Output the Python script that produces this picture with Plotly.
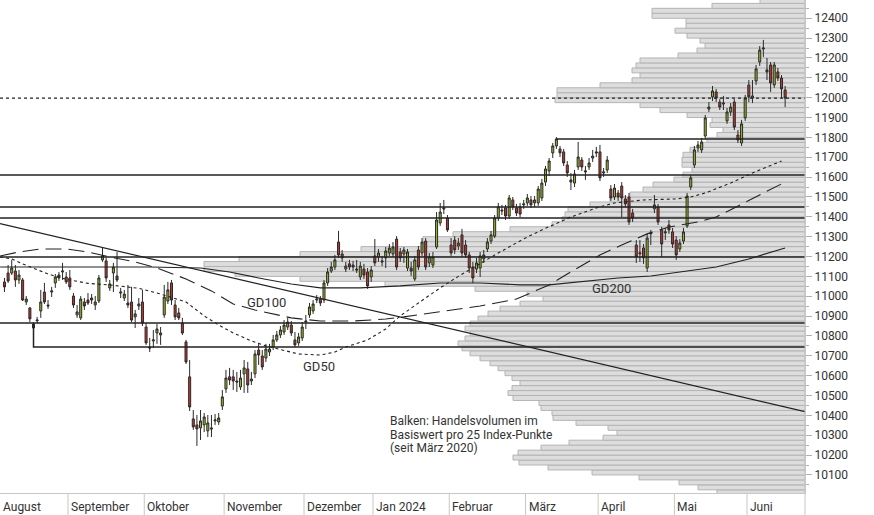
import pandas as pd
import plotly.graph_objects as go

# ---------------- data ----------------
holidays = ["2023-12-25", "2023-12-26", "2024-01-01", "2024-01-02", "2024-03-29",
            "2024-04-01", "2024-05-01", "2024-05-09", "2024-05-20"]
dates = [d for d in pd.bdate_range("2023-08-08", "2024-06-17")
         if d.strftime("%Y-%m-%d") not in holidays]

opens = [11072, 11117, 11117, 11127, 11082, 11082, 10971, 10941, 10860, 10876, 10926, 11021, 10956, 11021, 11067, 11107, 11122, 11097,
         11092, 11001, 10906, 10891, 10971, 10981, 10991, 10956, 10976, 11183, 11178, 11042, 11117, 11102, 11016, 10991, 10966, 10971, 10896, 10951, 10971,
         10845, 10744, 10775, 10815, 10805, 10906, 10976, 11067, 10956, 10916, 10865, 10770, 10594, 10382, 10352, 10337, 10352, 10322, 10337, 10372, 10367, 10447,
         10533, 10594, 10594, 10573, 10543, 10609, 10634, 10573, 10609, 10729, 10699, 10689, 10719, 10744, 10780, 10805, 10820, 10845, 10855, 10780, 10765, 10790,
         10870, 10906, 10926, 10981, 10986, 10981, 11067, 11127, 11147, 11273, 11213, 11137, 11163, 11157, 11137, 11097, 11137, 11122, 11097,
         11203, 11198, 11178, 11193, 11218, 11213, 11288, 11223, 11213, 11142, 11142, 11087, 11233, 11218, 11278, 11168, 11157, 11248, 11369, 11445, 11394,
         11258, 11283, 11253, 11309, 11258, 11208, 11147, 11137, 11142, 11188, 11238, 11278, 11303, 11394, 11434, 11445, 11404, 11485, 11445, 11450, 11460,
         11470, 11485, 11470, 11470, 11495, 11575, 11631, 11722, 11757, 11742, 11727, 11661, 11586, 11570, 11651, 11686, 11626, 11651, 11696, 11727,
         11727, 11621, 11636, 11540, 11500, 11520, 11555, 11490, 11500, 11419, 11258, 11213, 11243, 11142, 11314, 11440, 11450, 11334, 11319, 11359, 11324,
         11283, 11238, 11278, 11354, 11550, 11661, 11747, 11737, 11807, 11943, 12004, 12029, 11978, 11968, 11883, 11928, 11978, 11812, 11772, 11898,
         12064, 11998, 12084, 12180, 12245, 12140, 12165, 12064, 12130, 12099, 12039]
highs = [11092, 11157, 11183, 11157, 11132, 11092, 11001, 10946, 10870, 10896, 11032, 11067, 10981, 11047, 11112, 11122, 11168, 11122,
         11132, 11016, 10956, 11001, 10991, 11016, 11011, 11001, 11107, 11243, 11193, 11082, 11168, 11223, 11042, 11032, 11057, 11047, 10931, 10991, 11032,
         10865, 10790, 10830, 10860, 10845, 11057, 11072, 11082, 10981, 10941, 10891, 10780, 10679, 10427, 10402, 10427, 10412, 10402, 10402, 10407, 10412, 10528,
         10629, 10639, 10629, 10619, 10629, 10679, 10669, 10619, 10729, 10765, 10729, 10760, 10760, 10805, 10825, 10850, 10880, 10891, 10875, 10820, 10815, 10870,
         10906, 10966, 10981, 11006, 11001, 11082, 11142, 11173, 11208, 11329, 11233, 11173, 11183, 11178, 11183, 11173, 11163, 11142, 11152,
         11288, 11238, 11203, 11248, 11263, 11273, 11303, 11243, 11248, 11238, 11173, 11203, 11253, 11293, 11293, 11218, 11223, 11424, 11470, 11485, 11409,
         11293, 11303, 11293, 11339, 11283, 11223, 11173, 11193, 11223, 11233, 11293, 11329, 11409, 11470, 11460, 11460, 11510, 11500, 11465, 11470, 11485,
         11515, 11505, 11505, 11555, 11591, 11656, 11696, 11772, 11802, 11757, 11742, 11681, 11621, 11636, 11777, 11701, 11656, 11696, 11737, 11752,
         11762, 11646, 11706, 11560, 11565, 11535, 11575, 11510, 11520, 11440, 11283, 11283, 11263, 11314, 11334, 11510, 11465, 11349, 11344, 11384, 11344,
         11303, 11288, 11344, 11520, 11611, 11757, 11782, 11797, 11913, 11978, 12059, 12044, 11993, 12009, 11948, 11973, 11993, 11837, 11888, 12014,
         12089, 12089, 12165, 12260, 12291, 12200, 12180, 12180, 12150, 12114, 12059]
lows = [11021, 11067, 11107, 11047, 11062, 10976, 10956, 10870, 10830, 10865, 10891, 10961, 10936, 10996, 11042, 11077, 11082, 11062,
        11032, 10941, 10891, 10880, 10931, 10956, 10961, 10931, 10966, 11173, 11072, 11027, 11021, 11072, 10991, 10976, 10941, 10870, 10840, 10931, 10850,
        10755, 10719, 10739, 10760, 10755, 10891, 10961, 10956, 10880, 10880, 10805, 10659, 10422, 10327, 10246, 10276, 10316, 10291, 10291, 10352, 10352, 10427,
        10513, 10553, 10528, 10518, 10528, 10513, 10513, 10553, 10588, 10654, 10629, 10669, 10699, 10729, 10770, 10790, 10805, 10830, 10800, 10744, 10750, 10775,
        10835, 10891, 10911, 10966, 10951, 10966, 11052, 11117, 11132, 11193, 11173, 11122, 11132, 11127, 11117, 11082, 11087, 11037, 11072,
        11152, 11173, 11152, 11142, 11203, 11198, 11132, 11173, 11168, 11127, 11102, 11077, 11132, 11203, 11132, 11147, 11142, 11238, 11354, 11414, 11324,
        11203, 11213, 11233, 11198, 11193, 11117, 11067, 11117, 11097, 11168, 11223, 11263, 11293, 11379, 11409, 11384, 11389, 11434, 11404, 11399, 11440,
        11455, 11445, 11450, 11455, 11480, 11555, 11606, 11696, 11742, 11701, 11656, 11601, 11535, 11550, 11636, 11631, 11586, 11636, 11676, 11701,
        11580, 11601, 11621, 11480, 11485, 11480, 11399, 11450, 11359, 11374, 11168, 11173, 11163, 11122, 11258, 11419, 11359, 11198, 11283, 11314, 11243,
        11183, 11223, 11263, 11344, 11535, 11646, 11727, 11722, 11792, 11928, 11983, 11978, 11938, 11938, 11868, 11908, 11837, 11772, 11757, 11883,
        11978, 11973, 12064, 12160, 12205, 12089, 12029, 12049, 12084, 11998, 11953]
closes = [11047, 11077, 11142, 11082, 11107, 10981, 10986, 10886, 10840, 10880, 10971, 10971, 10951, 11027, 11097, 11092, 11127, 11072,
          11047, 10956, 10921, 10986, 10951, 10966, 10981, 10971, 11092, 11203, 11092, 11062, 11147, 11082, 11021, 11011, 10956, 10880, 10911, 10961, 10865,
          10765, 10739, 10780, 10835, 10815, 10996, 11032, 10981, 10896, 10891, 10815, 10669, 10442, 10342, 10332, 10372, 10392, 10362, 10332, 10377, 10387, 10493,
          10588, 10578, 10573, 10568, 10588, 10639, 10553, 10583, 10709, 10704, 10644, 10734, 10734, 10780, 10805, 10830, 10855, 10870, 10815, 10755, 10795, 10845,
          10875, 10946, 10961, 10986, 10966, 11067, 11122, 11147, 11183, 11208, 11193, 11152, 11147, 11147, 11132, 11152, 11107, 11052, 11132,
          11168, 11218, 11173, 11228, 11243, 11248, 11147, 11193, 11233, 11223, 11127, 11183, 11147, 11273, 11147, 11198, 11198, 11384, 11424, 11440, 11334,
          11218, 11233, 11268, 11218, 11208, 11142, 11092, 11168, 11203, 11208, 11273, 11309, 11394, 11450, 11430, 11404, 11495, 11450, 11419, 11414, 11465,
          11495, 11460, 11485, 11540, 11570, 11641, 11681, 11757, 11792, 11722, 11671, 11621, 11575, 11616, 11701, 11651, 11631, 11671, 11706, 11722,
          11596, 11626, 11686, 11495, 11545, 11500, 11495, 11465, 11374, 11394, 11198, 11218, 11193, 11293, 11319, 11460, 11374, 11263, 11324, 11334, 11263,
          11208, 11268, 11324, 11505, 11596, 11737, 11762, 11777, 11898, 11953, 12034, 11998, 11953, 11973, 11928, 11953, 11852, 11787, 11868, 11998,
          12004, 12009, 12145, 12240, 12250, 12130, 12074, 12165, 12099, 12044, 11998]

# moving averages (at sample days; index = trading day)
gd50_idx = [-1.2, 2, 5, 8, 12, 17, 23, 30, 37, 43, 50, 55, 59, 63, 68, 72, 77, 81, 87, 91, 94, 100, 105, 109, 114,
            120, 125, 131, 136, 143, 148, 156, 163, 168, 176, 185, 189, 193, 200, 206, 214]
gd50_val = [11198, 11188, 11163, 11142, 11112, 11085, 11065, 11055, 11040, 11011, 10971, 10901, 10855, 10815, 10775,
            10750, 10729, 10709, 10704, 10719, 10744, 10780, 10835, 10901, 10966, 11042, 11100, 11165, 11218, 11289,
            11334, 11399, 11445, 11470, 11485, 11490, 11500, 11520, 11570, 11621, 11681]
gd100_idx = [-1.2, 4, 10, 17, 23, 29, 36, 42, 50, 57, 63, 69, 79, 87, 96, 105, 110, 120, 131, 141, 150, 155, 160, 164,
             170, 177, 183, 191, 196, 202, 208, 215]
gd100_val = [11203, 11223, 11238, 11238, 11223, 11198, 11173, 11142, 11087, 11027, 10961, 10931, 10891, 10875, 10875,
             10885, 10896, 10921, 10951, 10986, 11057, 11112, 11163, 11208, 11258, 11314, 11349, 11374, 11399, 11455,
             11510, 11575]
gd200_idx = [-1.2, 40, 54, 62, 70, 79, 87, 98, 109, 120, 131, 142, 150, 158, 169, 178, 186, 196, 205, 215]
gd200_val = [11147, 11147, 11142, 11122, 11092, 11062, 11042, 11042, 11052, 11067, 11067, 11057, 11057, 11072, 11092,
             11102, 11122, 11147, 11188, 11243]

# support / resistance levels: (price, first trading-day index or None for full width)
levels = [(11792, 152), (11611, None), (11450, None), (11394, None), (11198, None), (10865, None)]
bracket_level = 10744          # drawn from the candle of index 8 downwards and to the right
bracket_idx = 8
bracket_top = 10860
trend_prices = [11366, 10419]  # descending trend line, left edge -> right edge

# volume profile: traded volume per 25 index points (relative units)
vol_bins = list(range(10000, 12500, 25))
vol_values = [88, 107, 126, 166, 213, 257, 286, 292, 287, 264, 236, 202, 188, 197, 229, 252, 253, 264, 266, 292,
              297, 293, 285, 293, 300, 307, 315, 325, 335, 343, 347, 340, 335, 340, 335, 327, 317, 305, 285, 262,
              278, 330, 420, 505, 570, 601, 601, 566, 505, 444, 382, 382, 352, 295, 253, 243, 240, 237, 215, 195,
              175, 162, 152, 131, 122, 113, 123, 123, 122, 115, 102, 98, 88, 82, 95, 93, 118, 145, 165, 250,
              248, 248, 205, 173, 165, 173, 169, 165, 127, 108, 100, 105, 118, 130, 119, 119, 153, 153, 93, 45]

month_names = ["August", "September", "Oktober", "November", "Dezember", "Jan 2024",
               "Februar", "März", "April", "Mai", "Juni"]
y_ticks = list(range(10100, 12500, 100))

# ---------------- figure ----------------
X_LEFT, X_RIGHT = -1.23, 220.47
Y_MIN, Y_MAX = 10009, 12492
VOL_SPAN = 805
idx = list(range(len(dates)))
INK = "#222222"
FONT = "Roboto"

fig = go.Figure()

# volume profile (base axis, drawn underneath everything)
fig.add_trace(go.Bar(
    y=[b + 12.5 for b in vol_bins], x=vol_values, width=25, orientation="h",
    marker=dict(color="#dddddd", line=dict(color="#b4b4b4", width=1)),
    xaxis="x", yaxis="y", hoverinfo="skip"))

def line_trace(xs, ys, width=1.0, dash="solid"):
    return go.Scatter(x=xs, y=ys, mode="lines", xaxis="x2", yaxis="y",
                      line=dict(color=INK, width=width, dash=dash), hoverinfo="skip")

for price, start in levels:
    x0 = X_LEFT if start is None else start
    fig.add_trace(line_trace([x0, X_RIGHT], [price, price], width=1.5))
fig.add_trace(line_trace([bracket_idx, bracket_idx, X_RIGHT],
                         [bracket_top, bracket_level, bracket_level], width=1.5))
fig.add_trace(line_trace([X_LEFT, X_RIGHT], [closes[-1], closes[-1]], width=1.2, dash="3px,3px"))
fig.add_trace(line_trace([X_LEFT, X_RIGHT], trend_prices, width=1.2))
fig.add_trace(line_trace(gd200_idx, gd200_val, width=1.1))
fig.add_trace(line_trace(gd100_idx, gd100_val, width=1.1, dash="16px,7px"))
fig.add_trace(line_trace(gd50_idx, gd50_val, width=1.1, dash="3px,3px"))

fig.add_trace(go.Candlestick(
    x=idx, open=opens, high=highs, low=lows, close=closes, xaxis="x2", yaxis="y",
    increasing=dict(fillcolor="#9ab522", line=dict(color="#2a2a2a", width=1)),
    decreasing=dict(fillcolor="#c0352b", line=dict(color="#2a2a2a", width=1)),
    whiskerwidth=0, hoverinfo="skip"))

# month separators and labels
annotations = []
shapes = []
bottom = -22 / 493
month_starts = [0] + [i for i in range(1, len(dates)) if dates[i].month != dates[i - 1].month]
for k, s in enumerate(month_starts):
    xb = X_LEFT if s == 0 else s - 0.5
    if s != 0:
        shapes.append(dict(type="line", xref="x2", yref="paper", x0=xb, x1=xb, y0=bottom, y1=0,
                           line=dict(color="#c8c8c8", width=1)))
    annotations.append(dict(x=xb, y=-0.0284, xref="x2", yref="paper", text=month_names[k],
                            showarrow=False, xanchor="left", yanchor="middle", xshift=1,
                            font=dict(family=FONT, size=12, color="#333333")))
shapes.append(dict(type="line", xref="paper", yref="paper", x0=1, x1=1, y0=bottom, y1=1,
                   line=dict(color="#c8c8c8", width=1)))

# moving average labels
for txt, px, py in [("GD100", 266, 302), ("GD50", 319, 366), ("GD200", 611, 288)]:
    annotations.append(dict(x=px / 805, y=1 - py / 493, xref="paper", yref="paper", text=txt,
                            showarrow=False, xanchor="center", yanchor="middle",
                            font=dict(family=FONT, size=13, color="#333333")))

# note text
for line_text, py in [("Balken: Handelsvolumen im", 421), ("Basiswert pro 25 Index-Punkte", 434.5),
                      ("(seit März 2020)", 448)]:
    annotations.append(dict(x=388 / 805, y=1 - py / 493, xref="paper", yref="paper", text=line_text,
                            showarrow=False, xanchor="left", yanchor="middle",
                            font=dict(family=FONT, size=12, color="#333333")))

fig.update_layout(
    width=874, height=515, margin=dict(l=0, r=69, t=0, b=22),
    plot_bgcolor="white", paper_bgcolor="white", showlegend=False,
    font=dict(family=FONT), boxgap=0.2,
    xaxis=dict(range=[VOL_SPAN, 0], visible=False, fixedrange=True),
    xaxis2=dict(overlaying="x", side="bottom", range=[X_LEFT, X_RIGHT], showticklabels=False,
                showgrid=False, zeroline=False, showline=True, linecolor="#c8c8c8", ticks="",
                rangeslider=dict(visible=False)),
    yaxis=dict(side="right", range=[Y_MIN, Y_MAX], tickmode="array", tickvals=y_ticks, tickformat="d",
               ticks="outside", ticklen=6, tickcolor="#b0b0b0", showgrid=False, zeroline=False,
               showline=True, linecolor="#c8c8c8",
               tickfont=dict(family=FONT, size=12, color="#333333"),
               minor=dict(tickmode="linear", tick0=10050, dtick=100, ticks="outside", ticklen=3, tickcolor="#b0b0b0")),
    annotations=annotations, shapes=shapes,
)

fig.write_html("out.html", config={"displayModeBar": False},
               post_script="document.body.style.margin='0';document.body.style.padding='0';")
